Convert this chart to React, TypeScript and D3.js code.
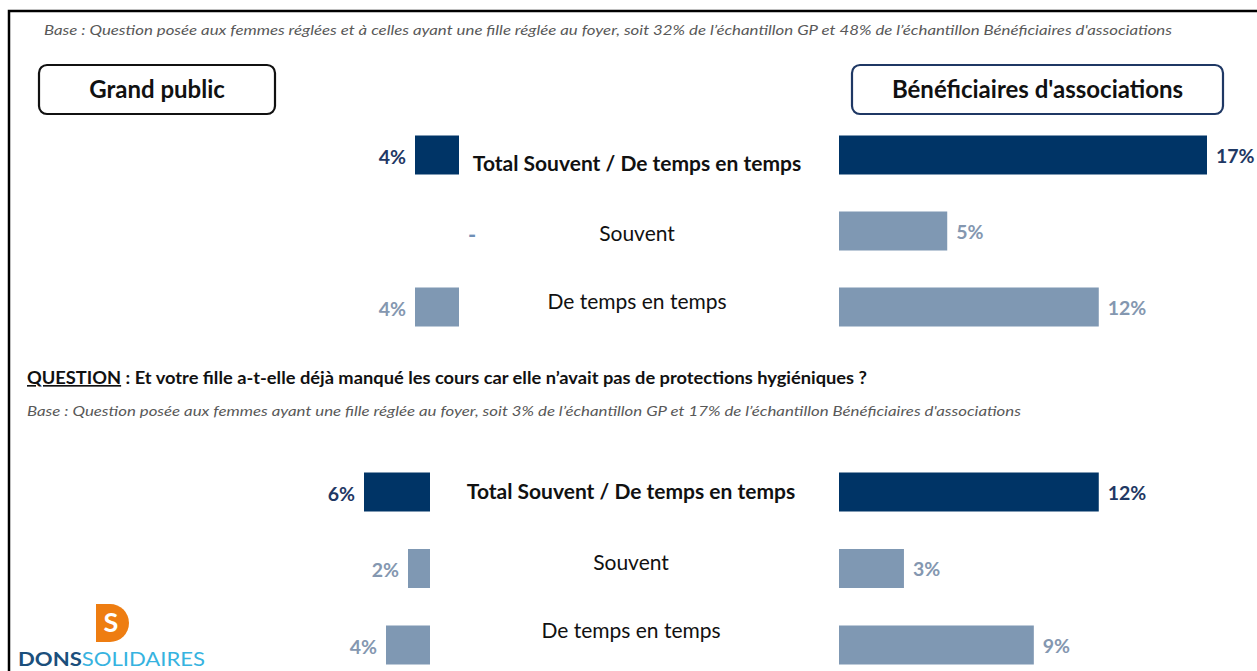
import * as d3 from "d3";
import { useEffect, useRef } from "react";

// rows of each block
const categories = ["Total Souvent / De temps en temps", "Souvent", "De temps en temps"];
// values in %, null = "-"
const grandPublicQ1 = [4, null, 4];
const beneficiairesQ1 = [17, 5, 12];
const grandPublicQ2 = [6, 2, 4];
const beneficiairesQ2 = [12, 3, 9];

const groupLabels = ["Grand public", "Bénéficiaires d'associations"];
const baseQ1 =
    "Base : Question posée aux femmes réglées et à celles ayant une fille réglée au foyer, soit 32% de l’échantillon GP et 48% de l’échantillon Bénéficiaires d'associations";
const questionQ2 =
    "Et votre fille a-t-elle déjà manqué les cours car elle n’avait pas de protections hygiéniques ?";
const baseQ2 =
    "Base : Question posée aux femmes ayant une fille réglée au foyer, soit 3% de l’échantillon GP et 17% de l’échantillon Bénéficiaires d'associations";

const W = 1257;
const H = 671;
const font = "Lato, 'Open Sans', sans-serif";
const darkBar = "#003466";
const lightBar = "#7f98b3";
const darkText = "#1f3864";
const lightText = "#8497b0";

export default function App() {
    const svgRef = useRef(null);

    useEffect(() => {
        const svg = d3.select(svgRef.current);
        svg.selectAll("*").remove();

        // frame
        svg.append("path")
            .attr("d", `M9,${H} V11 H${W}`)
            .attr("fill", "none")
            .attr("stroke", "#000")
            .attr("stroke-width", 2.5);

        // base line 1
        svg.append("text")
            .attr("x", 44).attr("y", 35)
            .attr("font-family", font).attr("font-style", "italic")
            .attr("font-size", 14).attr("fill", "#595959")
            .attr("textLength", 1128).attr("lengthAdjust", "spacingAndGlyphs")
            .text(baseQ1);

        // group boxes
        const boxes = [
            { x: 39, w: 236, stroke: "#111", label: groupLabels[0] },
            { x: 852, w: 371, stroke: "#1f3864", label: groupLabels[1] },
        ];
        const box = svg.append("g").selectAll("g").data(boxes).join("g");
        box.append("rect")
            .attr("x", d => d.x).attr("y", 65)
            .attr("width", d => d.w).attr("height", 49)
            .attr("rx", 8)
            .attr("fill", "#fff")
            .attr("stroke", d => d.stroke)
            .attr("stroke-width", 2.2);
        box.append("text")
            .attr("x", d => d.x + d.w / 2).attr("y", 98)
            .attr("text-anchor", "middle")
            .attr("font-family", font).attr("font-weight", "bold")
            .attr("font-size", 24).attr("fill", "#111")
            .text(d => d.label);

        // question 2
        const q = svg.append("text")
            .attr("x", 27).attr("y", 384)
            .attr("font-family", font).attr("font-weight", "bold")
            .attr("font-size", 16.5).attr("fill", "#111")
            .attr("textLength", 840).attr("lengthAdjust", "spacingAndGlyphs");
        q.append("tspan").attr("text-decoration", "underline").text("QUESTION");
        q.append("tspan").text(" :  " + questionQ2);

        svg.append("text")
            .attr("x", 27).attr("y", 416)
            .attr("font-family", font).attr("font-style", "italic")
            .attr("font-size", 14).attr("fill", "#595959")
            .attr("textLength", 994).attr("lengthAdjust", "spacingAndGlyphs")
            .text(baseQ2);

        // scales
        const xLeft = d3.scaleLinear().domain([0, 10]).range([0, 110]);
        const xRight = d3.scaleLinear().domain([0, 17]).range([0, 368]);
        const rightStart = 839;
        const barH = 39;

        const sections = [
            { gp: grandPublicQ1, ben: beneficiairesQ1, y: [155, 307], leftEnd: 459, labelX: 637, labelDy: [9, 3, -5] },
            { gp: grandPublicQ2, ben: beneficiairesQ2, y: [492, 645], leftEnd: 430, labelX: 631, labelDy: [0, -6, -14] },
        ];

        sections.forEach(sec => {
            const y = d3.scalePoint().domain(categories).range(sec.y);
            const g = svg.append("g");
            const rows = categories.map((c, i) => ({ c, i, gp: sec.gp[i], ben: sec.ben[i] }));

            // left bars (grand public)
            g.selectAll(".gp")
                .data(rows.filter(r => r.gp != null))
                .join("rect")
                .attr("x", r => sec.leftEnd - xLeft(r.gp))
                .attr("y", r => y(r.c) - barH / 2)
                .attr("width", r => xLeft(r.gp))
                .attr("height", barH)
                .attr("fill", r => r.i === 0 ? darkBar : lightBar);

            g.selectAll(".gpl")
                .data(rows)
                .join("text")
                .attr("x", r => r.gp == null ? sec.leftEnd + 13 : sec.leftEnd - xLeft(r.gp) - 9)
                .attr("y", r => y(r.c) + (r.gp == null ? 4 : 2))
                .attr("dy", "0.35em")
                .attr("text-anchor", r => r.gp == null ? "middle" : "end")
                .attr("font-family", font).attr("font-weight", "bold")
                .attr("font-size", r => r.gp == null ? 22 : 19.5)
                .attr("fill", r => r.gp == null ? "#6f8fb6" : r.i === 0 ? darkText : lightText)
                .text(r => r.gp == null ? "-" : r.gp + "%");

            // right bars (beneficiaires)
            g.selectAll(".ben")
                .data(rows)
                .join("rect")
                .attr("x", rightStart)
                .attr("y", r => y(r.c) - barH / 2)
                .attr("width", r => xRight(r.ben))
                .attr("height", barH)
                .attr("fill", r => r.i === 0 ? darkBar : lightBar);

            g.selectAll(".benl")
                .data(rows)
                .join("text")
                .attr("x", r => rightStart + xRight(r.ben) + 9)
                .attr("y", r => y(r.c) + 1)
                .attr("dy", "0.35em")
                .attr("font-family", font).attr("font-weight", "bold")
                .attr("font-size", 19.5)
                .attr("fill", r => r.i === 0 ? darkText : lightText)
                .text(r => r.ben + "%");

            // category labels
            g.selectAll(".cat")
                .data(rows)
                .join("text")
                .attr("x", sec.labelX)
                .attr("y", r => y(r.c) + sec.labelDy[r.i])
                .attr("dy", "0.35em")
                .attr("text-anchor", "middle")
                .attr("font-family", font)
                .attr("font-weight", r => r.i === 0 ? "bold" : "normal")
                .attr("font-size", 21)
                .attr("fill", "#111")
                .text(r => r.c);
        });

        // logo
        const logo = svg.append("g");
        logo.append("path")
            .attr("d", "M96,604 H110 A19,19 0 0 1 110,642 H96 Z")
            .attr("fill", "#ee7d11");
        logo.append("text")
            .attr("x", 111).attr("y", 632)
            .attr("text-anchor", "middle")
            .attr("font-family", font).attr("font-weight", "bold")
            .attr("font-size", 27).attr("fill", "#fff")
            .text("S");
        const brand = logo.append("text")
            .attr("x", 18).attr("y", 666)
            .attr("font-family", font)
            .attr("font-size", 19)
            .attr("textLength", 187).attr("lengthAdjust", "spacingAndGlyphs");
        brand.append("tspan").attr("font-weight", "bold").attr("fill", "#1b4f7c").text("DONS");
        brand.append("tspan").attr("fill", "#36b3e0").text("SOLIDAIRES");
    }, []);

    return (
        <svg
            ref={svgRef}
            width={W}
            height={H}
            style={{ position: "absolute", left: 0, top: 0, background: "#fff", overflow: "hidden" }}
        />
    );
}
